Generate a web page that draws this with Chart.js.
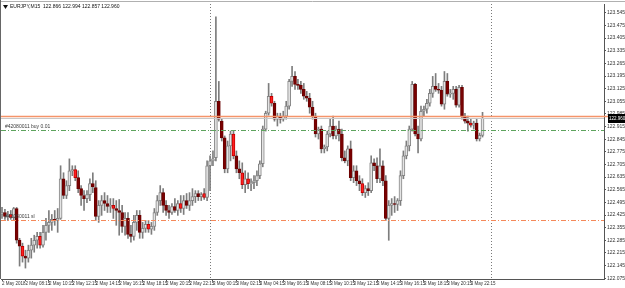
<!DOCTYPE html>
<html>
<head>
<meta charset="utf-8">
<script src="https://cdn.jsdelivr.net/npm/chart.js@4.4.0/dist/chart.umd.min.js"></script>
<style>
  html, body { margin: 0; padding: 0; background: #fff; overflow: hidden; }
  #wrap { position: relative; width: 625px; height: 288px; }
</style>
</head>
<body>
<div id="wrap"><canvas id="chart"></canvas></div>
<script>
/* ── Data: EURJPY M15, one bar per 15 minutes from 2 May 06:15 ───────────── */
const opens = [122.428,122.439,122.417,122.428,122.412,122.461,122.285,122.252,122.197,122.186,122.23,122.258,122.285,122.307,122.258,122.329,122.368,122.384,122.401,122.395,122.406,122.626,122.533,122.588,122.67,122.676,122.632,122.571,122.533,122.516,122.538,122.599,122.577,122.417,122.478,122.505,122.489,122.472,122.478,122.461,122.45,122.439,122.362,122.406,122.318,122.307,122.384,122.423,122.329,122.351,122.373,122.346,122.362,122.439,122.505,122.549,122.478,122.45,122.439,122.472,122.45,122.489,122.461,122.505,122.478,122.505,122.527,122.544,122.527,122.544,122.522,122.698,122.725,122.742,123.055,122.945,122.852,122.681,122.808,122.874,122.753,122.681,122.659,122.593,122.626,122.599,122.604,122.615,122.643,122.709,122.901,122.989,123.083,123.044,122.956,122.973,122.956,122.973,123.028,123.165,123.193,123.149,123.143,123.121,123.083,123.072,123.022,122.973,122.874,122.901,122.791,122.802,122.874,122.918,122.863,122.901,122.874,122.742,122.725,122.791,122.632,122.67,122.615,122.599,122.549,122.571,122.56,122.714,122.698,122.626,122.698,122.615,122.406,122.478,122.489,122.483,122.505,122.643,122.753,122.808,122.901,123.149,122.874,122.846,123.0,123.011,123.044,123.099,123.138,123.121,123.116,123.039,123.165,123.094,123.099,123.121,123.033,123.132,122.973,122.945,122.934,122.923,122.934,122.846,122.866];
const highs = [122.467,122.456,122.445,122.45,122.467,122.467,122.296,122.269,122.23,122.258,122.296,122.313,122.329,122.329,122.368,122.406,122.45,122.428,122.45,122.461,122.698,122.659,122.615,122.736,122.698,122.698,122.67,122.588,122.56,122.56,122.626,122.659,122.615,122.505,122.533,122.549,122.533,122.516,122.516,122.505,122.511,122.478,122.439,122.439,122.368,122.423,122.45,122.45,122.384,122.395,122.395,122.384,122.461,122.533,122.588,122.571,122.505,122.478,122.489,122.516,122.505,122.533,122.533,122.544,122.549,122.571,122.56,122.56,122.549,122.571,122.725,122.753,122.78,123.523,123.165,122.956,122.863,122.835,122.89,122.89,122.78,122.725,122.714,122.67,122.659,122.626,122.643,122.67,122.725,122.918,123.0,123.154,123.099,123.055,122.989,122.989,123.0,123.055,123.176,123.248,123.22,123.176,123.165,123.154,123.11,123.099,123.055,122.989,122.912,122.918,122.813,122.89,122.956,122.973,122.918,122.945,122.901,122.78,122.808,122.835,122.698,122.698,122.643,122.626,122.588,122.604,122.753,122.736,122.742,122.791,122.725,122.643,122.505,122.516,122.527,122.516,122.67,122.78,122.835,122.918,123.165,123.154,122.918,123.028,123.028,123.066,123.121,123.193,123.209,123.154,123.138,123.22,123.209,123.121,123.138,123.138,123.143,123.143,122.989,122.973,122.956,122.945,122.956,122.879,122.994];
const lows = [122.406,122.401,122.395,122.401,122.395,122.269,122.142,122.164,122.131,122.164,122.186,122.219,122.241,122.241,122.247,122.285,122.329,122.34,122.368,122.329,122.401,122.516,122.516,122.56,122.643,122.615,122.549,122.478,122.45,122.494,122.505,122.549,122.395,122.384,122.423,122.45,122.439,122.439,122.406,122.368,122.313,122.329,122.313,122.296,122.274,122.285,122.34,122.296,122.296,122.329,122.329,122.318,122.34,122.423,122.478,122.439,122.423,122.406,122.428,122.439,122.423,122.439,122.428,122.461,122.45,122.478,122.494,122.505,122.505,122.511,122.505,122.56,122.698,122.725,122.945,122.835,122.659,122.659,122.725,122.736,122.659,122.626,122.571,122.549,122.571,122.56,122.571,122.588,122.626,122.692,122.89,122.978,123.028,122.945,122.918,122.934,122.945,122.956,123.011,123.138,123.121,123.121,123.099,123.066,123.055,122.989,122.956,122.857,122.846,122.769,122.769,122.78,122.857,122.846,122.846,122.835,122.725,122.714,122.698,122.615,122.604,122.588,122.56,122.533,122.522,122.533,122.549,122.67,122.604,122.604,122.588,122.395,122.285,122.423,122.439,122.45,122.478,122.626,122.736,122.78,122.89,122.863,122.769,122.835,122.973,122.989,123.028,123.077,123.11,123.099,123.028,123.011,123.083,123.077,123.066,123.022,123.022,122.956,122.934,122.89,122.912,122.901,122.835,122.835,122.857];
const closes = [122.439,122.417,122.428,122.412,122.461,122.285,122.252,122.197,122.186,122.23,122.258,122.285,122.307,122.258,122.329,122.368,122.384,122.401,122.395,122.406,122.626,122.533,122.588,122.67,122.676,122.632,122.571,122.533,122.516,122.538,122.599,122.582,122.417,122.478,122.505,122.489,122.472,122.478,122.461,122.45,122.439,122.362,122.406,122.318,122.307,122.384,122.423,122.329,122.351,122.373,122.346,122.362,122.439,122.505,122.549,122.478,122.45,122.439,122.472,122.45,122.489,122.461,122.505,122.478,122.505,122.527,122.544,122.527,122.538,122.522,122.698,122.725,122.736,123.055,122.956,122.852,122.681,122.808,122.874,122.753,122.681,122.659,122.593,122.626,122.599,122.604,122.615,122.643,122.709,122.901,122.989,123.083,123.044,122.956,122.973,122.956,122.973,123.028,123.165,123.193,123.149,123.143,123.121,123.083,123.072,123.022,122.973,122.874,122.901,122.791,122.802,122.874,122.918,122.863,122.901,122.874,122.742,122.725,122.791,122.632,122.67,122.615,122.599,122.549,122.571,122.56,122.714,122.698,122.626,122.698,122.615,122.406,122.478,122.489,122.483,122.505,122.643,122.753,122.808,122.901,123.149,122.874,122.846,123.0,123.011,123.044,123.099,123.138,123.121,123.116,123.039,123.165,123.094,123.099,123.121,123.033,123.132,122.973,122.945,122.934,122.923,122.934,122.846,122.866,122.96];

const timeLabels = ['2 May 2018','2 May 08:15','2 May 10:15','2 May 12:15','2 May 14:15','2 May 16:15','2 May 18:15','2 May 20:15','2 May 22:15','3 May 00:15','3 May 02:15','3 May 04:15','3 May 06:15','3 May 08:15','3 May 10:15','3 May 12:15','3 May 14:15','3 May 16:15','3 May 18:15','3 May 20:15','3 May 22:15'];
const priceTicks = [123.545,123.475,123.405,123.335,123.265,123.195,123.125,123.055,122.985,122.915,122.845,122.775,122.705,122.635,122.565,122.495,122.425,122.355,122.285,122.215,122.145,122.075];

const daySeparators = [71, 167];      // bar index of 3 May 00:00 and 4 May 00:00
const markLevel = 122.975;            // orange horizontal line
const bidLevel = 122.960;
const buyLevel = 122.895;             // order #42080011 buy 0.01
const slLevel = 122.395;              // stop loss
const title = 'EURJPY,M15  122.866 122.994 122.857 122.960';

/* ── Styling ───────────────────────────────────────────────────────────── */
const BAR_STEP = 8;                   // label every 2 hours
const RED_IDX = new Set([3, 7, 13, 25, 38, 50, 61, 69, 79, 82, 84, 92, 123, 160]);
const FONT = '"Liberation Sans Narrow", "Liberation Sans", sans-serif';

function bodyColor(i) {
  if (closes[i] >= opens[i]) return '#e4e4e4';
  return RED_IDX.has(i) ? '#ff1f1f' : '#7a0000';
}
function bodyBorder(i) {
  if (closes[i] >= opens[i]) return '#858585';
  return RED_IDX.has(i) ? '#c00000' : '#6a0000';
}

const wickData = highs.map((h, i) => ({ x: i, y: [lows[i], h] }));
const bodyData = opens.map((o, i) => ({ x: i, y: [o, closes[i]] }));

/* ── Decorations drawn like the terminal does ──────────────────────────── */
const decor = {
  id: 'decor',
  beforeDraw(chart) {
    const { ctx, width, height } = chart;
    ctx.save();
    ctx.fillStyle = '#fff';
    ctx.fillRect(0, 0, width, height);
    ctx.restore();
  },
  beforeDatasetsDraw(chart) {
    const { ctx, chartArea: a, scales: { x } } = chart;
    ctx.save();
    ctx.strokeStyle = '#7a7a7a';
    ctx.lineWidth = 1;
    ctx.setLineDash([1, 2]);
    daySeparators.forEach(i => {
      const px = Math.round(x.getPixelForValue(i)) + 0.5;
      ctx.beginPath(); ctx.moveTo(px, a.top); ctx.lineTo(px, a.bottom); ctx.stroke();
    });
    ctx.restore();
  },
  afterDatasetsDraw(chart) {
    const { ctx, chartArea: a, scales: { y } } = chart;
    const hline = (v, color, dash, w, x2) => {
      const py = Math.round(y.getPixelForValue(v)) + 0.5;
      ctx.save();
      ctx.strokeStyle = color; ctx.lineWidth = w; ctx.setLineDash(dash);
      ctx.beginPath(); ctx.moveTo(a.left, py); ctx.lineTo(x2 || a.right, py); ctx.stroke();
      ctx.restore();
      return py;
    };
    hline(bidLevel, '#c8c8c8', [], 1);
    hline(markLevel, '#f5946a', [], 1.5, a.right + 4);
    const buyY = hline(buyLevel, '#5da35d', [5, 2, 1, 2], 1);
    const slY = hline(slLevel, '#f4895a', [5, 2, 1, 2], 1);

    ctx.save();
    ctx.font = '5px ' + FONT;
    ctx.textBaseline = 'bottom';
    ctx.fillStyle = '#3a3a3a';
    ctx.fillText('#42080011 buy 0.01', a.left + 4, buyY - 1);
    ctx.fillText('#42080011 sl', a.left + 4, slY - 1);

    // title
    ctx.fillStyle = '#111';
    ctx.textBaseline = 'middle';
    ctx.fillText(title, a.left + 9, 7);
    ctx.beginPath();
    ctx.moveTo(a.left + 2, 5); ctx.lineTo(a.left + 7, 5); ctx.lineTo(a.left + 4.5, 9); ctx.closePath();
    ctx.fill();

    // current price tag
    const by = Math.round(y.getPixelForValue(bidLevel));
    ctx.fillStyle = '#000';
    ctx.fillRect(a.right + 4, by - 4, 21, 9);
    ctx.fillStyle = '#fff';
    ctx.font = '4.5px ' + FONT;
    ctx.fillText(bidLevel.toFixed(3), a.right + 5, by + 0.5);
    ctx.restore();

    // window frame
    ctx.save();
    ctx.strokeStyle = '#b0b0b0';
    ctx.beginPath(); ctx.moveTo(0, 1.5); ctx.lineTo(chart.width, 1.5); ctx.stroke();
    ctx.strokeStyle = '#666';
    ctx.beginPath(); ctx.moveTo(0.5, 0); ctx.lineTo(0.5, a.bottom); ctx.stroke();
    ctx.restore();
  }
};

/* ── Chart ─────────────────────────────────────────────────────────────── */
const plotLeft = 1, plotRight = 604, barPx = 2.93;
const xMin = (2 - plotLeft) / -barPx;
const xMax = xMin + (plotRight - plotLeft) / barPx;

new Chart(document.getElementById('chart'), {
  type: 'bar',
  data: {
    datasets: [
      {
        label: 'body', data: bodyData, order: 0, grouped: false,
        barThickness: 3, minBarLength: 1, borderSkipped: false, borderWidth: 1,
        backgroundColor: bodyData.map((_, i) => bodyColor(i)),
        borderColor: bodyData.map((_, i) => bodyBorder(i))
      },
      {
        label: 'wick', data: wickData, order: 1, grouped: false,
        barThickness: 1, backgroundColor: '#7d7d7d', borderWidth: 0
      }
    ]
  },
  options: {
    responsive: true, maintainAspectRatio: false, animation: false, devicePixelRatio: 1,
    layout: { padding: { top: 2, left: plotLeft, right: 0, bottom: 0 } },
    plugins: { legend: { display: false }, tooltip: { enabled: false } },
    scales: {
      x: {
        type: 'linear', min: xMin, max: xMax, offset: false,
        afterBuildTicks: s => { s.ticks = timeLabels.map((_, k) => ({ value: k * BAR_STEP })); },
        afterFit: s => { s.height = 288 - 279; s.paddingLeft = 0; s.paddingRight = 0; },
        grid: { display: true, offset: false, drawOnChartArea: false, drawTicks: true, tickLength: 2, color: '#555' },
        border: { display: true, color: '#555' },
        ticks: {
          autoSkip: false, maxRotation: 0, minRotation: 0, align: 'start', padding: 0,
          color: '#333', font: { size: 4.5, family: FONT },
          callback: v => timeLabels[Math.round(v / BAR_STEP)]
        }
      },
      y: {
        position: 'right', min: 122.0705, max: 123.594,
        afterBuildTicks: s => { s.ticks = priceTicks.map(v => ({ value: v })); },
        afterFit: s => { s.width = 625 - plotRight; },
        grid: { display: true, drawOnChartArea: false, drawTicks: true, tickLength: 2, color: '#555' },
        border: { display: true, color: '#555' },
        ticks: {
          padding: 1, color: '#333', font: { size: 5, family: FONT },
          callback: v => v.toFixed(3)
        }
      }
    }
  },
  plugins: [decor]
});
</script>
</body>
</html>
